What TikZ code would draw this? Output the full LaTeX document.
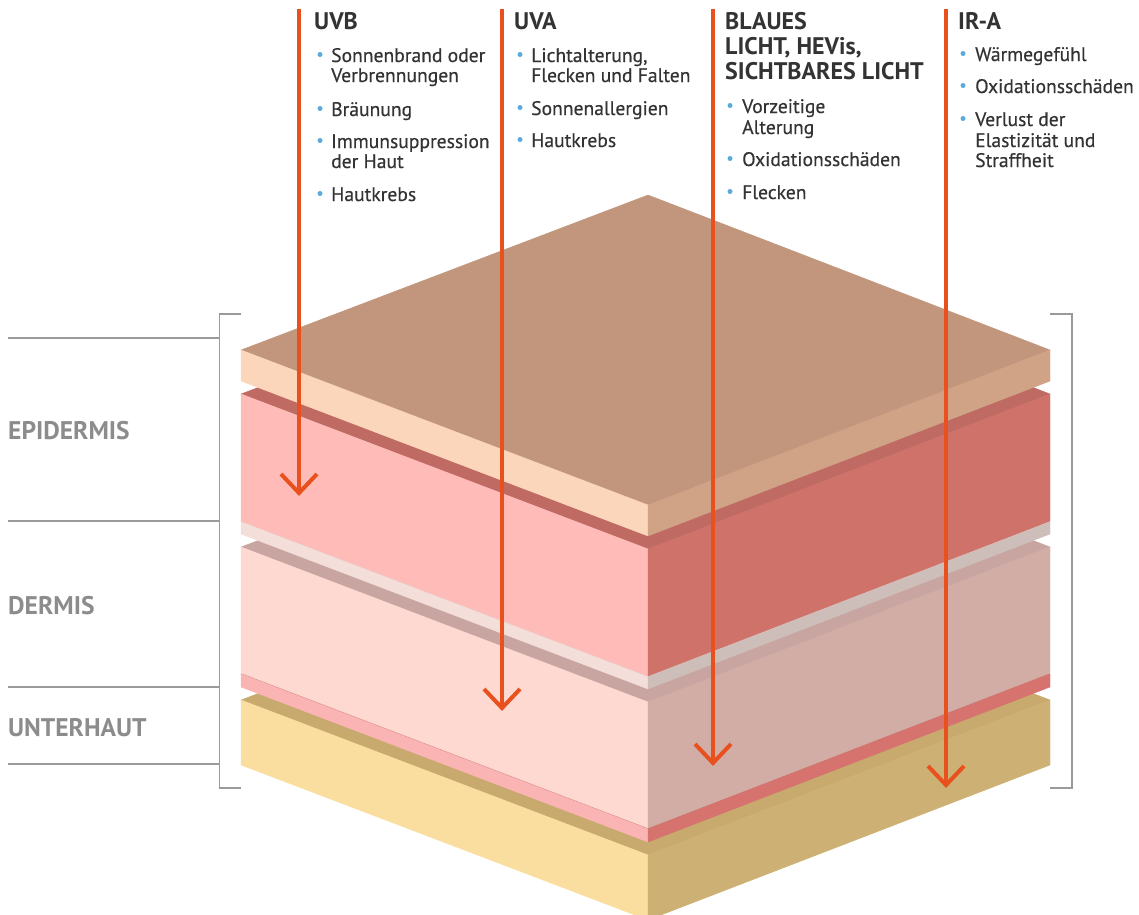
\documentclass[tikz,border=0pt]{standalone}
\usepackage{fontspec}
\setmainfont{PT Sans}
\newfontfamily\itemfont[FakeBold=0.45]{PT Sans}
\definecolor{ray}{HTML}{E8501E}
\definecolor{txt}{HTML}{333333}
\definecolor{lab}{HTML}{8C8C8C}
\definecolor{gline}{HTML}{9A9A9A}
\definecolor{bullet}{HTML}{5AAADC}
% layer colours: top / left / right
\definecolor{aT}{HTML}{C1967C}\definecolor{aL}{HTML}{FCD6BA}\definecolor{aR}{HTML}{D0A286}
\definecolor{bT}{HTML}{C06A64}\definecolor{bL}{HTML}{FEBBB7}\definecolor{bR}{HTML}{CE726A}
\definecolor{cT}{HTML}{E6D2CE}\definecolor{cL}{HTML}{F3DEDA}\definecolor{cR}{HTML}{CDBEB9}
\definecolor{dT}{HTML}{C8A5A0}\definecolor{dL}{HTML}{FED9D1}\definecolor{dR}{HTML}{D2ADA6}
\definecolor{eT}{HTML}{C97470}\definecolor{eL}{HTML}{FAB4B4}\definecolor{eR}{HTML}{D7736E}
\definecolor{fT}{HTML}{C8AA6E}\definecolor{fL}{HTML}{FADEA0}\definecolor{fR}{HTML}{CDB073}
% #1 top y (left corner), #2 bottom y, #3 colour prefix
\newcommand\skinslab[3]{%
  \fill[#3T, draw=#3T, line width=0.4pt] (241,#1) -- (648,#1-155) -- (1050,#1) -- (648,#1+155) -- cycle;
  \fill[#3L, draw=#3L, line width=0.4pt] (241,#1) -- (648,#1+155) -- (648,#2+155) -- (241,#2) -- cycle;
  \fill[#3R, draw=#3R, line width=0.4pt] (648,#1+155) -- (1050,#1) -- (1050,#2) -- (648,#2+155) -- cycle;
}
\begin{document}
\begin{tikzpicture}[x=1pt,y=-1pt,
  rayline/.style={draw=ray, line width=4pt},
  rayhead/.style={draw=ray, line width=4pt, line join=miter, line cap=butt},
  item/.style={anchor=base west, inner sep=0pt, text=txt, font=\itemfont\fontsize{19.6}{21}\selectfont},
  head/.style={anchor=base west, inner sep=0pt, text=txt, font=\fontsize{24}{26}\selectfont\bfseries},
  layerlabel/.style={anchor=base west, inner sep=0pt, text=lab, font=\fontsize{25.5}{28}\selectfont\bfseries},
  bdot/.style={circle, fill=bullet, inner sep=0pt, minimum size=5pt},
  greyline/.style={draw=gline, line width=1.4pt}
]
\useasboundingbox (0,0) rectangle (1139,914);
\begin{scope}
\clip (0,0) rectangle (1139,914);
\skinslab{700}{765}{f}
\skinslab{674}{687}{e}
\skinslab{547}{673}{d}
\skinslab{522}{534}{c}
\skinslab{394}{521}{b}
\skinslab{350}{381}{a}
\end{scope}

% left layer lines
\coordinate (l1a) at (8,338); \coordinate (l1b) at (219,338);
\coordinate (l2a) at (8,521); \coordinate (l2b) at (219,521);
\coordinate (l3a) at (8,687); \coordinate (l3b) at (219,687);
\coordinate (l4a) at (8,764); \coordinate (l4b) at (219,764);
\draw[greyline] (l1a) -- (l1b);
\draw[greyline] (l2a) -- (l2b);
\draw[greyline] (l3a) -- (l3b);
\draw[greyline] (l4a) -- (l4b);
% brackets
\coordinate (bl1) at (241,314); \coordinate (bl2) at (219.5,314);
\coordinate (bl3) at (219.5,788); \coordinate (bl4) at (241,788);
\draw[greyline] (bl1) -- (bl2) -- (bl3) -- (bl4);
\coordinate (br1) at (1050,314); \coordinate (br2) at (1072,314);
\coordinate (br3) at (1072,788); \coordinate (br4) at (1050,788);
\draw[greyline] (br1) -- (br2) -- (br3) -- (br4);

\node[layerlabel] (epi) at (8,439) {EPIDERMIS};
\node[layerlabel] (der) at (8,614) {DERMIS};
\node[layerlabel] (unt) at (8,736) {UNTERHAUT};

% rays
\coordinate (uvbS) at (299,9);  \coordinate (uvbT) at (299,493);
\coordinate (uvaS) at (502,9);  \coordinate (uvaT) at (502,708);
\coordinate (bluS) at (713,9);  \coordinate (bluT) at (713,763);
\coordinate (iraS) at (946,9);  \coordinate (iraT) at (946,785);
\foreach \r in {uvb,uva,blu,ira}{
  \draw[rayline] (\r S) -- ([yshift=2pt]\r T);
  \draw[rayhead] ([shift={(-18,-19)}]\r T) -- (\r T) -- ([shift={(18,-19)}]\r T);
}

% UVB
\node[head] (uvbH) at (314,29) {UVB};
\node[bdot] (uvbD1) at (320,54.5) {};
\node[item] (uvbI1) at (331,62) {Sonnenbrand oder};
\node[item] (uvbI1b) at (331,82) {Verbrennungen};
\node[bdot] (uvbD2) at (320,108.5) {};
\node[item] (uvbI2) at (331,116) {Bräunung};
\node[bdot] (uvbD3) at (320,140.5) {};
\node[item] (uvbI3) at (331,148) {Immunsuppression};
\node[item] (uvbI3b) at (331,168) {der Haut};
\node[bdot] (uvbD4) at (320,193.5) {};
\node[item] (uvbI4) at (331,201) {Hautkrebs};

% UVA
\node[head] (uvaH) at (514,29) {UVA};
\node[bdot] (uvaD1) at (520,54.5) {};
\node[item] (uvaI1) at (531,62) {Lichtalterung,};
\node[item] (uvaI1b) at (531,82) {Flecken und Falten};
\node[bdot] (uvaD2) at (520,107.5) {};
\node[item] (uvaI2) at (531,115) {Sonnenallergien};
\node[bdot] (uvaD3) at (520,139.5) {};
\node[item] (uvaI3) at (531,147) {Hautkrebs};

% Blue light
\node[head] (bluH1) at (725,29) {BLAUES};
\node[head] (bluH2) at (725,54) {LICHT, HEVis,};
\node[head] (bluH3) at (725,79) {SICHTBARES LICHT};
\node[bdot] (bluD1) at (730,105.5) {};
\node[item] (bluI1) at (742,113) {Vorzeitige};
\node[item] (bluI1b) at (742,134) {Alterung};
\node[bdot] (bluD2) at (730,158.5) {};
\node[item] (bluI2) at (742,166) {Oxidationsschäden};
\node[bdot] (bluD3) at (730,191.5) {};
\node[item] (bluI3) at (742,199) {Flecken};

% IR-A
\node[head] (iraH) at (958,29) {IR-A};
\node[bdot] (iraD1) at (963,53.5) {};
\node[item] (iraI1) at (975,61) {Wärmegefühl};
\node[bdot] (iraD2) at (963,85.5) {};
\node[item] (iraI2) at (975,93) {Oxidationsschäden};
\node[bdot] (iraD3) at (963,118.5) {};
\node[item] (iraI3) at (975,126) {Verlust der};
\node[item] (iraI3b) at (975,147) {Elastizität und};
\node[item] (iraI3c) at (975,167) {Straffheit};
\end{tikzpicture}
\end{document}
